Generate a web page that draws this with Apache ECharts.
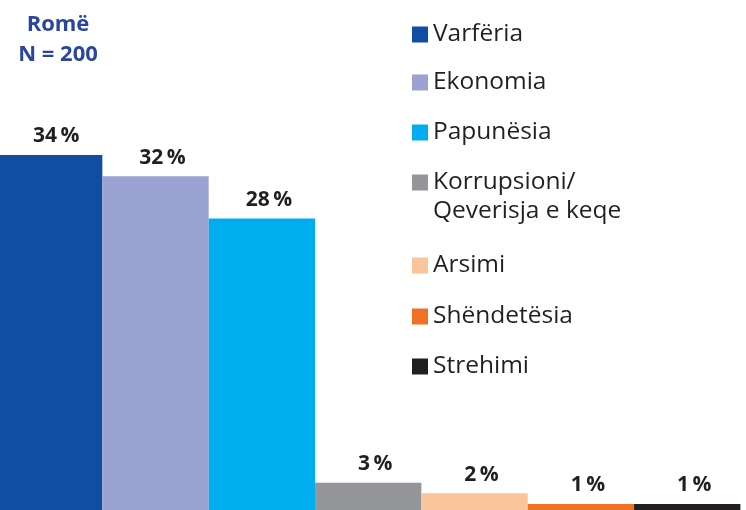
<!DOCTYPE html>
<html>
<head>
<meta charset="utf-8">
<script src="https://cdn.jsdelivr.net/npm/echarts@6/dist/echarts.min.js"></script>
<style>
  html, body { margin: 0; padding: 0; background: #ffffff; overflow: hidden; }
  /* the plot runs slightly past the left and bottom edges of the page */
  #chart { position: absolute; left: -4px; top: 0; width: 750px; height: 515px; }
</style>
</head>
<body>
<div id="chart"></div>
<script>
// Problems named by Roma respondents (N = 200), share in percent
const categories = ['Varfëria', 'Ekonomia', 'Papunësia', 'Korrupsioni/\nQeverisja e keqe', 'Arsimi', 'Shëndetësia', 'Strehimi'];
const shares = [34, 32, 28, 3, 2, 1, 1];
const colors = ['#0f4ea1', '#9aa3d1', '#00aeef', '#939598', '#fbc59b', '#f07024', '#231f20'];

const FONT = '"Open Sans", "Noto Sans", sans-serif';
const legendTops = [22, 70, 120, 139, 253, 304, 354];

const chart = echarts.init(document.getElementById('chart'), null, { renderer: 'canvas' });

const series = categories.map((name, i) => ({
  name: name,
  type: 'bar',
  stack: 'all',
  barCategoryGap: 0,
  data: shares.map((v, j) => (j === i ? v : '-')),
  itemStyle: { color: colors[i] },
  label: {
    show: true,
    position: 'top',
    distance: 8,
    offset: [7, 0],
    formatter: (p) => p.value + '\u2009%',
    color: '#231f20',
    fontFamily: FONT,
    fontWeight: 'bold',
    fontSize: 21
  },
  emphasis: { disabled: true }
}));

const legends = categories.map((name, i) => {
  const twoLines = name.indexOf('\n') >= 0;
  return {
    data: [name],
    orient: 'vertical',
    left: 416,
    top: legendTops[i],
    padding: 0,
    icon: 'rect',
    itemWidth: 16,
    itemHeight: 16,
    selectedMode: false,
    // a blank leading line keeps the square beside the first line of a two-line name
    formatter: twoLines ? (n) => '\u00a0\n' + n : '{name}',
    textStyle: {
      fontFamily: FONT,
      fontSize: 24.5,
      color: '#231f20',
      lineHeight: twoLines ? 29 : 24
    }
  };
});

chart.setOption({
  animation: false,
  title: {
    text: 'Romë\nN = 200',
    left: 62,
    top: 10,
    padding: 0,
    textAlign: 'center',
    textStyle: {
      fontFamily: FONT,
      fontWeight: 'bold',
      fontSize: 22,
      lineHeight: 30,
      color: '#2b46a0'
    }
  },
  legend: legends,
  grid: { left: 0, right: 5.6, top: 155, bottom: 0.5, containLabel: false },
  xAxis: {
    type: 'category',
    data: categories,
    show: false
  },
  yAxis: {
    type: 'value',
    min: 0,
    max: 34,
    show: false
  },
  series: series
});
</script>
</body>
</html>
